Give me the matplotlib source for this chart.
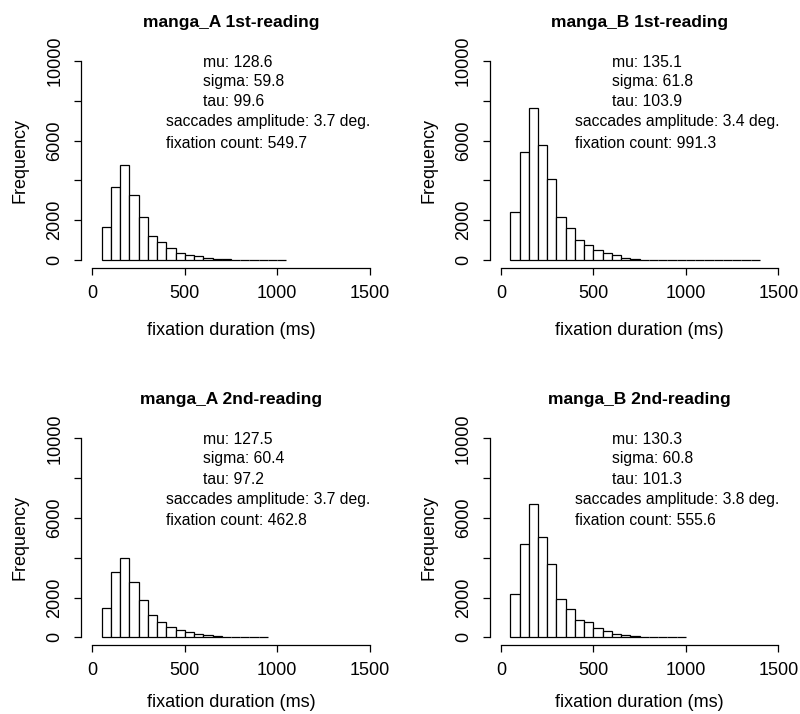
import numpy as np
import matplotlib
matplotlib.use("Agg")
import matplotlib.pyplot as plt
from matplotlib.ticker import FixedLocator, FixedFormatter

plt.rcParams['font.family'] = ['Liberation Sans', 'DejaVu Sans']

# histogram counts, bins of 50 ms starting at 50 ms
counts_a1 = [1650, 3650, 4760, 3250, 2150, 1210, 890, 610, 380, 260, 190, 100, 55,
             30, 15, 8, 5, 3, 2, 1]
counts_b1 = [2420, 5420, 7630, 5760, 4050, 2150, 1600, 1030, 755, 530, 380, 270, 125,
             65, 25, 12, 8, 5, 3, 2, 1, 1, 0, 0, 0, 0, 0]
counts_a2 = [1500, 3290, 3990, 2790, 1890, 1110, 765, 520, 385, 265, 180, 110, 65,
             30, 15, 8, 4, 2]
counts_b2 = [2200, 4710, 6690, 5030, 3700, 1950, 1445, 880, 765, 445, 320, 158, 100,
             50, 25, 12, 6, 3, 1]
bin_start = 50
bin_width = 50

titles = ["manga_A 1st-reading", "manga_B 1st-reading",
          "manga_A 2nd-reading", "manga_B 2nd-reading"]
mu = [128.6, 135.1, 127.5, 130.3]
sigma = [59.8, 61.8, 60.4, 60.8]
tau = [99.6, 103.9, 97.2, 101.3]
saccade_amp = [3.7, 3.4, 3.7, 3.8]
fix_count = [549.7, 991.3, 462.8, 555.6]

all_counts = [counts_a1, counts_b1, counts_a2, counts_b2]

fig = plt.figure(figsize=(8, 7.14), dpi=100)
lefts = [0.1015, 0.6124]
bottoms = [0.6246, 0.0962]
w, h = 0.3745, 0.301

for i in range(4):
    ax = fig.add_axes([lefts[i % 2], bottoms[i // 2], w, h])
    c = np.array(all_counts[i])
    edges = bin_start + bin_width * np.arange(len(c))
    ax.bar(edges, c, width=bin_width, align='edge', color='white',
           edgecolor='black', linewidth=0.9)

    ax.set_xlim(-60, 1560)
    ax.set_ylim(-400, 10400)
    for s in ['top', 'right']:
        ax.spines[s].set_visible(False)
    ax.spines['left'].set_bounds(0, 10000)
    ax.spines['bottom'].set_bounds(0, 1500)
    ax.spines['left'].set_linewidth(0.9)
    ax.spines['bottom'].set_linewidth(0.9)

    ax.set_xticks([0, 500, 1000, 1500])
    ax.set_xticklabels(['0', '500', '1000', '1500'])
    ax.yaxis.set_major_locator(FixedLocator([0, 2000, 4000, 6000, 8000, 10000]))
    ax.yaxis.set_major_formatter(FixedFormatter(['0', '2000', '', '6000', '', '10000']))
    ax.tick_params(axis='both', length=5, width=0.9, labelsize=13)
    ax.tick_params(axis='x', pad=7)
    ax.tick_params(axis='y', pad=8)
    for lab in ax.get_yticklabels():
        lab.set_rotation(90)
        lab.set_va('center')

    ax.set_title(titles[i], fontsize=12.5, fontweight='bold', pad=19)
    ax.set_xlabel("fixation duration (ms)", fontsize=13, va='center')
    ax.xaxis.set_label_coords(0.5, -0.29 if i < 2 else -0.265)
    ax.set_ylabel("Frequency", fontsize=13, va='center')
    ax.yaxis.set_label_coords(-0.204, 0.5)

    fs = 11.3
    ax.text(600, 9950, "mu: %.1f" % mu[i], fontsize=fs, va='center', ha='left')
    ax.text(600, 8980, "sigma: %.1f" % sigma[i], fontsize=fs, va='center', ha='left')
    ax.text(600, 7950, "tau: %.1f" % tau[i], fontsize=fs, va='center', ha='left')
    ax.text(400, 6940, "saccades amplitude: %.1f deg." % saccade_amp[i], fontsize=fs,
            va='center', ha='left')
    ax.text(400, 5880, "fixation count: %.1f" % fix_count[i], fontsize=fs,
            va='center', ha='left')

fig.savefig("out.png", dpi=100)
